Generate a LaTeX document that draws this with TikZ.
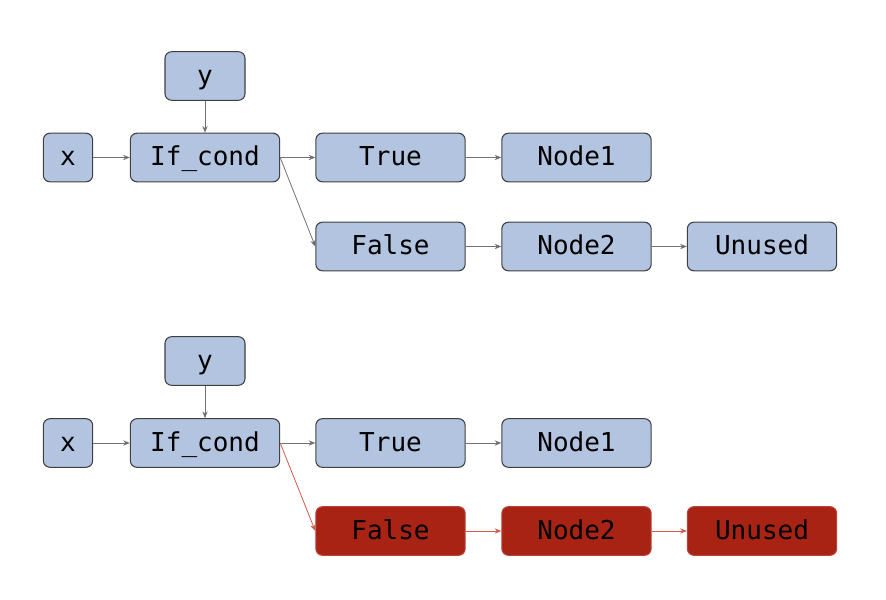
\documentclass[tikz,border=0pt]{standalone}
\usepackage{fontspec}
\setmonofont{DejaVu Sans Mono}
\usetikzlibrary{arrows.meta}
\definecolor{nodeblue}{HTML}{B2C4DF}
\definecolor{nodered}{HTML}{A92314}
\definecolor{edgered}{HTML}{D05A4E}
\begin{document}
\begin{tikzpicture}[x=0.75pt,y=-0.75pt,
  box/.style={draw=black!75,line width=0.8pt,fill=nodeblue,rounded corners=5pt,
    minimum height=36.5pt,inner sep=0pt,text height=14pt,text depth=2pt,
    font=\ttfamily\fontsize{19.5pt}{19.5pt}\selectfont},
  redbox/.style={box,draw=nodered!85!white,fill=nodered},
  w50/.style={minimum width=37pt},
  w80/.style={minimum width=60pt},
  w150/.style={minimum width=112pt},
  edge/.style={draw=black!55,line width=0.6pt,-{Stealth[length=5pt,width=4pt,fill=black!75]}},
  rededge/.style={draw=edgered,line width=0.6pt,-{Stealth[length=5pt,width=4pt,fill=edgered]}}]
\useasboundingbox (0,0) rectangle (886,600);
% top graph
\node[box,w80] (y1) at (205,76) {y};
\node[box,w50] (x1) at (68,157.5) {x};
\node[box,w150] (if1) at (205,157.5) {If\_cond};
\node[box,w150] (t1) at (390.5,157.5) {True};
\node[box,w150] (n11) at (576.5,157.5) {Node1};
\node[box,w150] (f1) at (390.5,246.5) {False};
\node[box,w150] (n21) at (576.5,246.5) {Node2};
\node[box,w150] (u1) at (762,246.5) {Unused};
\draw[edge] (x1) -- (if1);
\draw[edge] (y1) -- (if1);
\draw[edge] (if1) -- (t1);
\draw[edge] (if1.east) -- (f1.west);
\draw[edge] (t1) -- (n11);
\draw[edge] (f1) -- (n21);
\draw[edge] (n21) -- (u1);
% bottom graph
\node[box,w80] (y2) at (205,361) {y};
\node[box,w50] (x2) at (68,443) {x};
\node[box,w150] (if2) at (205,443) {If\_cond};
\node[box,w150] (t2) at (390.5,443) {True};
\node[box,w150] (n12) at (576.5,443) {Node1};
\node[redbox,w150] (f2) at (390.5,531) {False};
\node[redbox,w150] (n22) at (576.5,531) {Node2};
\node[redbox,w150] (u2) at (762,531) {Unused};
\draw[edge] (x2) -- (if2);
\draw[edge] (y2) -- (if2);
\draw[edge] (if2) -- (t2);
\draw[rededge] (if2.east) -- (f2.west);
\draw[edge] (t2) -- (n12);
\draw[rededge] (f2) -- (n22);
\draw[rededge] (n22) -- (u2);
\end{tikzpicture}
\end{document}
